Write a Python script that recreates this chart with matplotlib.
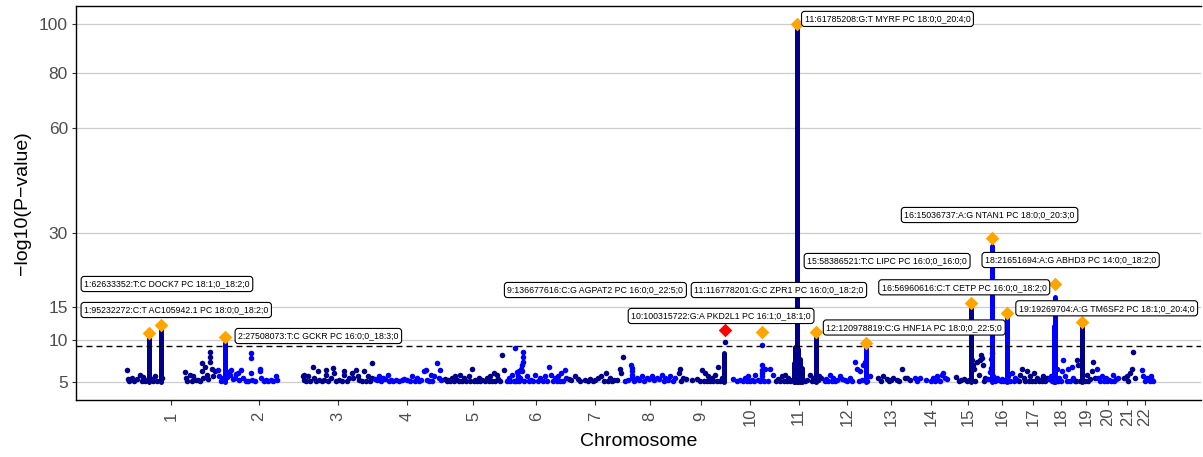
import numpy as np
import matplotlib
matplotlib.use("Agg")
import matplotlib.pyplot as plt

plt.rcParams["font.family"] = ["Liberation Sans", "DejaVu Sans"]
plt.rcParams["lines.scale_dashes"] = False

# chromosome lengths (Mb) used for the cumulative genome axis
chrom_len = [249, 243, 198, 191, 181, 171, 159, 146, 141, 136, 135,
             134, 115, 107, 102, 90, 81, 78, 59, 63, 48, 51]
chrom_names = [str(i) for i in range(1, 23)]

# background SNPs per chromosome: position (Mb) and -log10(P)
snp_pos = [
    [1, 3.6, 8, 15, 22, 29, 38, 43, 47, 52, 56, 70, 75, 80, 86, 98, 163, 165, 170, 177, 182, 187, 193, 200, 205, 210, 212, 214, 219, 224, 228, 233, 233, 233, 238, 242, 247],
    [7, 9.6, 14, 21, 33, 36, 40, 44, 48, 54, 58, 63, 66, 72, 77, 84, 92, 100, 100, 100, 101, 110, 123.5, 124.5, 128, 135, 142, 148, 155.7, 162, 170, 171],
    [1, 4, 6, 10, 15, 22, 29, 33.6, 38, 43, 47.5, 55, 60, 66, 67, 73, 80, 87.4, 88, 95, 103, 110, 117, 118, 125, 131, 140, 143, 150.6, 155, 160, 167, 173.7, 178, 183, 189, 194, 196],
    [5, 12, 17.5, 22, 26.8, 33, 40.7, 45, 50, 57, 64, 72, 80, 88, 96.4, 103, 110, 117, 124, 130, 135, 143, 147.6, 152, 157, 161.5, 166, 170.7, 178, 184.6, 189, 190],
    [10, 15, 20, 25, 30, 35, 40, 44.6, 50, 54, 58, 63, 70, 77, 82, 86.4, 91, 96, 100, 105, 110, 115, 122, 128, 133, 137.7, 142, 147, 152, 156, 160, 165, 170, 175],
    [3, 8, 12, 17, 22, 26, 28, 30, 31, 33, 35.5, 36, 38, 40, 42, 44.7, 46, 49, 49, 49, 52, 58, 64, 70, 76, 82, 89, 96, 103, 110, 116, 122, 128, 133, 138, 143, 147, 152, 156, 161, 165, 170],
    [5, 12, 22, 30, 38, 50, 58, 65, 72, 80, 87, 96, 103, 110, 115, 120, 126, 133, 140, 148, 152, 157],
    [5, 13, 22, 23, 23, 23, 23, 30, 37, 44, 51, 58, 65, 72, 79, 86, 93, 100, 107, 112, 116, 123, 130, 137, 144],
    [10, 12, 16, 21, 30, 45, 60, 68, 73, 78, 82, 87, 91.4, 96, 101, 105, 110, 115, 119, 124, 129, 133, 136.7],
    [20, 30, 39, 46, 53, 58, 62.4, 67, 72, 77, 81, 90, 95, 100.3, 100.3, 100.3, 100.3, 100.3, 100.3, 105, 110, 116, 123, 130],
    [5, 10, 15, 20, 25, 29, 34, 38.5, 43, 48, 85, 92, 99, 104, 108, 112, 121, 125, 130],
    [5, 10, 15, 20, 25, 29.5, 35, 40, 48, 55, 62, 69, 76, 83, 90, 95, 100, 104, 109, 112, 118, 125, 132],
    [21.6, 28, 35.6, 45, 50, 57, 63.6, 73, 80, 87, 96, 101, 110],
    [9, 16, 23, 40, 55, 60.7, 65, 70, 74.6, 79, 84, 88.7, 93.5, 100],
    [18, 25, 30, 40, 47, 53, 61, 64, 66, 70, 75, 80, 84, 86, 89, 92, 95, 98.5],
    [5, 10, 12, 14, 17, 19.7, 24, 29, 35, 40, 45, 50, 61.7, 66, 71, 76, 80, 86],
    [2, 4.5, 9, 14, 18, 23, 28, 33, 38, 42, 47, 51, 56, 61, 65, 70, 75, 79],
    [5, 10, 14, 26, 30, 33, 37, 40, 45, 50, 55, 59, 64, 68.5, 73, 77],
    [2, 4.6, 9, 13, 27, 32, 36, 40, 46, 51, 55],
    [2, 5, 10, 17, 22, 26.6, 31, 36, 41, 45.4, 50, 55, 60],
    [15, 22, 27, 31, 36, 41, 44],
    [16, 20.6, 25, 30, 35, 38, 42, 44, 48],
]
snp_logp = [
    [6.3, 5.3, 5.1, 5.4, 5.1, 5.3, 5.7, 5.1, 5.5, 5.1, 5.2, 5.3, 5.1, 5.6, 5.1, 5.4, 6.0, 5.4, 5.1, 5.7, 5.1, 5.6, 5.2, 5.2, 5.1, 6.1, 7.0, 5.4, 6.6, 5.7, 5.3, 8.4, 7.8, 7.2, 6.4, 5.6, 6.1],
    [6.3, 5.6, 5.1, 5.4, 5.5, 6.0, 5.7, 6.3, 5.3, 5.4, 5.8, 5.9, 5.2, 6.3, 5.4, 5.1, 5.1, 8.2, 7.6, 5.9, 5.2, 5.1, 6.4, 6.1, 5.4, 5.1, 5.2, 5.1, 5.2, 5.1, 5.6, 5.2],
    [5.6, 5.2, 5.7, 5.1, 5.6, 5.1, 6.6, 5.4, 5.1, 6.1, 5.2, 5.1, 5.2, 5.7, 6.3, 5.1, 5.4, 6.5, 5.9, 5.1, 5.2, 5.1, 5.7, 6.1, 5.1, 5.4, 5.9, 5.4, 6.3, 5.6, 5.2, 5.1, 6.1, 5.1, 5.6, 5.1, 5.4, 7.0],
    [5.3, 5.2, 5.6, 5.1, 5.4, 5.3, 5.7, 5.1, 5.2, 5.1, 5.2, 5.1, 5.2, 5.3, 5.2, 5.1, 5.6, 5.1, 5.4, 5.1, 5.2, 6.1, 6.3, 5.2, 5.1, 5.7, 5.1, 5.6, 7.0, 5.4, 6.3, 5.2],
    [5.3, 5.1, 5.2, 5.1, 5.4, 5.1, 5.6, 5.2, 5.1, 5.7, 5.1, 5.4, 5.1, 5.6, 5.1, 6.4, 5.1, 5.2, 5.1, 5.4, 5.1, 5.2, 5.1, 5.4, 5.1, 5.6, 5.1, 5.9, 5.1, 5.7, 5.3, 5.1, 8.0, 6.3],
    [5.1, 5.4, 5.1, 5.7, 5.1, 8.85, 5.1, 5.2, 6.0, 5.6, 5.3, 5.1, 6.2, 5.4, 6.4, 6.1, 6.8, 8.4, 7.8, 7.2, 5.1, 5.6, 5.1, 5.2, 5.1, 5.7, 5.1, 5.4, 5.1, 5.6, 5.1, 6.6, 5.7, 5.1, 5.4, 5.1, 5.6, 5.1, 5.9, 5.1, 6.3, 5.4],
    [5.3, 5.2, 5.6, 5.3, 5.1, 5.2, 5.1, 5.3, 5.1, 5.2, 5.4, 5.6, 5.1, 5.9, 5.1, 5.4, 5.1, 5.2, 5.2, 6.4, 5.9, 7.8],
    [5.1, 5.2, 6.8, 6.45, 6.1, 5.7, 5.4, 5.1, 5.4, 5.2, 5.6, 5.1, 5.4, 5.3, 5.6, 5.2, 5.4, 5.3, 5.7, 5.1, 5.4, 5.2, 5.6, 5.1, 5.4],
    [5.9, 6.4, 5.1, 5.4, 5.3, 5.2, 5.3, 5.1, 6.3, 5.1, 5.9, 5.1, 5.6, 5.1, 5.4, 5.1, 5.7, 5.1, 6.6, 5.1, 5.4, 5.1, 9.6],
    [5.3, 5.1, 5.2, 5.1, 5.4, 5.1, 5.6, 5.1, 5.2, 5.1, 5.7, 5.2, 5.1, 9.3, 6.8, 6.3, 5.9, 5.6, 5.2, 5.1, 6.4, 5.1, 6.4, 5.7],
    [5.1, 5.3, 5.1, 5.6, 5.1, 5.7, 5.1, 5.4, 5.1, 5.2, 5.1, 5.2, 5.7, 5.1, 5.4, 5.1, 5.2, 5.6, 5.4],
    [5.1, 5.3, 5.1, 5.7, 5.1, 5.4, 5.1, 5.2, 5.6, 5.3, 5.2, 5.1, 5.4, 5.1, 7.2, 6.4, 5.1, 6.1, 5.2, 6.8, 7.2, 5.1, 5.6],
    [5.4, 5.1, 5.6, 5.3, 5.1, 5.2, 5.4, 5.2, 5.1, 6.4, 5.4, 5.4, 5.2],
    [5.4, 5.1, 5.4, 5.2, 5.1, 5.4, 5.1, 5.6, 5.2, 5.1, 5.7, 5.9, 5.4, 5.3],
    [5.5, 5.1, 5.2, 5.3, 5.1, 5.2, 7.4, 6.8, 6.4, 5.1, 7.2, 5.7, 7.4, 8.0, 7.6, 6.8, 5.1, 5.4],
    [5.3, 6.0, 6.5, 7.5, 8.2, 5.6, 5.1, 5.4, 5.2, 5.1, 5.3, 5.1, 5.6, 5.1, 5.9, 5.1, 5.4, 5.2],
    [5.1, 5.7, 6.4, 5.4, 5.1, 6.1, 5.1, 5.6, 5.1, 5.9, 5.1, 5.4, 5.1, 5.2, 5.1, 5.6, 5.1, 5.4],
    [5.3, 5.6, 5.1, 6.4, 5.1, 5.4, 5.1, 6.1, 7.4, 5.6, 5.1, 6.4, 5.1, 6.6, 5.4, 5.1],
    [5.1, 7.4, 6.8, 5.1, 5.1, 5.7, 5.1, 5.3, 6.1, 7.2, 5.4],
    [6.4, 5.4, 5.1, 5.6, 5.1, 5.4, 5.1, 5.2, 5.1, 5.7, 5.1, 5.3, 5.4],
    [5.4, 5.6, 5.1, 5.9, 6.4, 8.4, 5.4],
    [6.3, 5.6, 5.1, 5.4, 5.3, 5.1, 5.6, 5.2, 5.1],
]

# dense runs of SNPs in the associated loci: chromosome, position (Mb), top -log10(P)
locus_chr = [1, 1, 2, 9, 11, 11, 11, 11, 11, 11, 11, 12, 15, 16, 16, 18, 18, 19]
locus_pos = [62.63, 95.23, 27.51, 136.0, 61.79, 54, 58, 65, 70, 76, 116.78, 120.98, 58.39, 15.04, 56.96, 21.65, 18.5, 19.27]
locus_top = [10.2, 11.6, 9.5, 8.2, 99.5, 7.0, 9.0, 8.8, 7.5, 6.5, 10.3, 8.9, 15.0, 26.9, 13.1, 16.7, 12.0, 12.1]

# lead variants with their annotation
lead_label = [
    "1:62633352:T:C DOCK7 PC 18:1;0_18:2;0",
    "1:95232272:C:T AC105942.1 PC 18:0;0_18:2;0",
    "2:27508073:T:C GCKR PC 16:0;0_18:3;0",
    "9:136677616:C:G AGPAT2 PC 16:0;0_22:5;0",
    "10:100315722:G:A PKD2L1 PC 16:1;0_18:1;0",
    "11:61785208:G:T MYRF PC 18:0;0_20:4;0",
    "11:116778201:G:C ZPR1 PC 16:0;0_18:2;0",
    "12:120978819:C:G HNF1A PC 18:0;0_22:5;0",
    "15:58386521:T:C LIPC PC 16:0;0_16:0;0",
    "16:15036737:A:G NTAN1 PC 18:0;0_20:3;0",
    "16:56960616:C:T CETP PC 16:0;0_18:2;0",
    "18:21651694:A:G ABHD3 PC 14:0;0_18:2;0",
    "19:19269704:A:G TM6SF2 PC 18:1;0_20:4;0",
]
lead_logp = [10.9, 12.1, 10.35, 11.3, 11.0, 100.0, 11.1, 9.5, 15.6, 28.8, 14.0, 19.1, 12.5]
lead_novel = [False, False, False, True, False, False, False, False, False, False, False, False, False]

threshold = 9.18

# where the label boxes sit (genome Mb, -log10 P)
label_x = [113, 139, 537, 1313, 1665, 2131, 1827, 2206, 2130, 2417, 2346, 2644, 2745]
label_y = [19.06, 14.46, 10.49, 17.94, 13.49, 102.2, 17.94, 11.72, 23.66, 34.35, 18.44, 23.87, 14.74]

starts = np.concatenate([[0], np.cumsum(chrom_len)[:-1]])
centers = starts + np.array(chrom_len) / 2
chr_col = ["#00008B", "#0000FF"]

fig = plt.figure(figsize=(12.03, 4.57), dpi=100)
ax = fig.add_axes([0.0634, 0.1247, 0.9349, 0.8615])
ax.set_yscale("function", functions=(lambda y: np.sqrt(np.maximum(y, 0)), np.square))

for i in range(22):
    col = chr_col[i % 2]
    x = starts[i] + np.array(snp_pos[i])
    ax.scatter(x, snp_logp[i], s=16, color=col, linewidths=0, zorder=3)

for c, p, top in zip(locus_chr, locus_pos, locus_top):
    col = chr_col[(c - 1) % 2]
    ax.vlines(starts[c - 1] + p, 5.05, top, colors=col, linewidth=3.6,
              capstyle="round", zorder=3)

ax.axhline(threshold, color="black", lw=1.0, dashes=(4.3, 2.9), zorder=4)

for lab, lp, novel, tx, ty in zip(lead_label, lead_logp, lead_novel, label_x, label_y):
    c, bp = lab.split(":")[:2]
    gx = starts[int(c) - 1] + int(bp) / 1e6
    ax.scatter(gx, lp, marker="D", s=48, color="red" if novel else "orange",
               linewidths=0, zorder=5)
    ax.text(tx, ty, lab, fontsize=6.3, ha="center", va="center", zorder=6,
            bbox=dict(boxstyle="round,pad=0.35,rounding_size=0.35",
                      fc="white", ec="black", lw=0.8))

ax.set_xlim(-141, 3009)
ax.set_ylim(3.43, 107.8)
ax.set_yticks([5, 10, 15, 30, 60, 80, 100])
ax.set_xticks(centers, chrom_names, rotation=90)
for t in ax.get_xticklabels():
    t.set_va("center")

ax.yaxis.grid(True, color="#CCCCCC", lw=0.9)
ax.set_axisbelow(True)
ax.spines["right"].set_visible(False)
for s in ["left", "bottom", "top"]:
    ax.spines[s].set_linewidth(1.0)
ax.tick_params(axis="y", length=3, width=0.8, color="#333333",
               labelsize=12.5, labelcolor="#4D4D4D", pad=3)
ax.tick_params(axis="x", length=3.3, width=0.8, color="#333333",
               labelsize=12, labelcolor="#4D4D4D", pad=8.5)

fig.text(22.5 / 1203, 0.5547, "\u2212log10(P\u2212value)", rotation=90,
         ha="center", va="center", fontsize=14)
fig.text(0.531, 0.035, "Chromosome", ha="center", va="center", fontsize=14)

fig.savefig("out.png", dpi=100)
